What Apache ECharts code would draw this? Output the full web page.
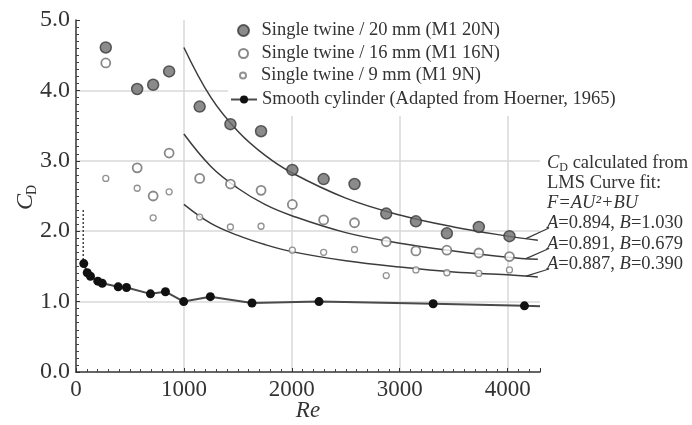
<!DOCTYPE html>
<html><head><meta charset="utf-8">
<script src="https://cdn.jsdelivr.net/npm/echarts@6/dist/echarts.min.js"></script>
<style>html,body{margin:0;padding:0;background:#fff}#c{width:692px;height:425px}</style>
</head><body><div id="c"></div>
<script>
// ---- data ----
const seriesNames = [
  'Single twine / 20 mm (M1 20N)',
  'Single twine / 16 mm (M1 16N)',
  'Single twine / 9 mm (M1 9N)',
  'Smooth cylinder (Adapted from Hoerner, 1965)'
];
const reTwine = [276, 567, 715, 863, 1146, 1431, 1715, 2005, 2295, 2581, 2875, 3150, 3437, 3733, 4017];
const cd20 = [4.61, 4.02, 4.08, 4.27, 3.77, 3.52, 3.42, 2.87, 2.74, 2.67, 2.25, 2.14, 1.97, 2.06, 1.93];
const cd16 = [4.39, 2.90, 2.50, 3.11, 2.75, 2.67, 2.58, 2.38, 2.16, 2.12, 1.85, 1.72, 1.73, 1.69, 1.64];
const cd9  = [2.75, 2.61, 2.19, 2.56, 2.20, 2.06, 2.07, 1.73, 1.70, 1.74, 1.37, 1.45, 1.41, 1.40, 1.45];

const reCyl = [72, 104, 134, 202, 243, 391, 468, 690, 829, 998, 1245, 1631, 2252, 3310, 4156];
const cdCyl = [1.54, 1.41, 1.36, 1.29, 1.26, 1.21, 1.20, 1.11, 1.14, 1.00, 1.07, 0.98, 1.00, 0.97, 0.94];
const cylLineEnd = [4300, 0.935];

const errRe = [67, 67];
const errCd = [2.30, 1.56];

const reFit = [1000, 1250, 1500, 1750, 2000, 2500, 3000, 3500, 4000, 4280];
const fit20 = [4.61, 3.90, 3.42, 3.08, 2.83, 2.47, 2.23, 2.06, 1.93, 1.87];
const fit16 = [3.38, 2.92, 2.61, 2.38, 2.22, 1.98, 1.83, 1.72, 1.63, 1.60];
const fit9  = [2.38, 2.11, 1.94, 1.81, 1.71, 1.58, 1.49, 1.42, 1.38, 1.35];

const fitA = ['0.894', '0.891', '0.887'];
const fitB = ['1.030', '0.679', '0.390'];

const xTicks = [0, 1000, 2000, 3000, 4000];
const yTicks = [0.0, 1.0, 2.0, 3.0, 4.0, 5.0];

// ---- build ----
const serif = '"Liberation Serif", "Times New Roman", serif';
const zip = (a, b) => a.map((v, i) => [v, b[i]]);
const chart = echarts.init(document.getElementById('c'));

const fitLine = (name, arr) => ({
  name, type: 'line', data: zip(reFit, arr), smooth: 0.4, showSymbol: false, silent: true,
  lineStyle: { color: '#3c3c3c', width: 1.5 }, z: 2
});

const legendTops = [21, 44, 66, 90];
const legendLefts = [237, 238, 239, 230];
const legendH = [11, 9, 6, 10];
const fs = 18.5;

const option = {
  animation: false,
  backgroundColor: '#fff',
  grid: { left: 76, right: 152, top: 20, bottom: 53, containLabel: false, outerBoundsMode: 'none' },
  xAxis: {
    type: 'value', min: xTicks[0], max: 4300, interval: 1000,
    name: 'Re', nameLocation: 'middle', nameGap: 27, nameMoveOverlap: false,
    nameTextStyle: { fontFamily: serif, fontStyle: 'italic', fontSize: 23, color: '#333', verticalAlign: 'top' },
    axisLine: { lineStyle: { color: '#333', width: 1.5 } },
    axisTick: { inside: true, length: 4, lineStyle: { color: '#333' } },
    minorTick: { show: true, splitNumber: 10, length: 3, lineStyle: { color: '#444' } },
    axisLabel: { fontFamily: serif, fontSize: 23, color: '#333', margin: 6, showMaxLabel: false,
      formatter: v => (xTicks.indexOf(v) >= 0 ? String(v) : '') },
    splitLine: { show: true, showMinLine: false, showMaxLine: false, lineStyle: { color: '#d9d9d9', width: 1.5 } }
  },
  yAxis: {
    type: 'value', min: yTicks[0], max: yTicks[yTicks.length - 1], interval: 1,
    axisLine: { show: true, lineStyle: { color: '#333', width: 1.5 } },
    axisTick: { show: true, inside: true, length: 4, lineStyle: { color: '#333' } },
    minorTick: { show: true, splitNumber: 10, length: 3, lineStyle: { color: '#444' } },
    axisLabel: { fontFamily: serif, fontSize: 24, color: '#333', margin: 6, formatter: v => v.toFixed(1) },
    splitLine: { show: true, showMinLine: false, showMaxLine: false, lineStyle: { color: '#d9d9d9', width: 1.5 } }
  },
  legend: seriesNames.map((n, i) => ({
    data: [n], left: legendLefts[i], top: legendTops[i], padding: 0, itemWidth: 26, itemHeight: legendH[i],
    selectedMode: false,
    textStyle: { fontFamily: serif, fontSize: fs, color: '#333' }
  })),
  graphic: [
    { type: 'rect', z: 1, shape: { x: 228, y: 0, width: 464, height: 116 }, style: { fill: '#fff' } },
    { type: 'text', x: 26, y: 202, rotation: Math.PI / 2,
      style: { text: 'C', font: 'italic 24px ' + serif, fill: '#333', align: 'center', verticalAlign: 'middle' } },
    { type: 'text', x: 32, y: 190, rotation: Math.PI / 2,
      style: { text: 'D', font: '14px ' + serif, fill: '#333', align: 'center', verticalAlign: 'middle' } },
    { type: 'text', x: 547, y: 163,
      style: { text: '{i|C}{s|D}{n| calculated from}', verticalAlign: 'middle', fill: '#333',
        rich: { i: { fontFamily: serif, fontStyle: 'italic', fontSize: fs, fill: '#333' },
                s: { fontFamily: serif, fontSize: 12, fill: '#333', padding: [9, 0, 0, 0] },
                n: { fontFamily: serif, fontSize: fs, fill: '#333' } } } },
    { type: 'text', x: 547, y: 183,
      style: { text: 'LMS Curve fit:', font: fs + 'px ' + serif, fill: '#333', verticalAlign: 'middle' } },
    { type: 'text', x: 547, y: 203,
      style: { text: 'F=AU\u00B2+BU', font: 'italic ' + fs + 'px ' + serif, fill: '#333', verticalAlign: 'middle' } }
  ].concat(fitA.map((a, i) => ({
    type: 'text', x: 547, y: 223.5 + i * 20.5,
    style: { text: '{i|A}=' + a + ', {i|B}=' + fitB[i], font: fs + 'px ' + serif, fill: '#333', verticalAlign: 'middle',
      rich: { i: { fontFamily: serif, fontStyle: 'italic', fontSize: fs, fill: '#333' } } }
  }))),
  series: [
    fitLine('fit20', fit20),
    fitLine('fit16', fit16),
    fitLine('fit9', fit9),
    { name: 'err', type: 'line', data: zip(errRe, errCd), showSymbol: false, silent: true,
      lineStyle: { color: '#444', width: 1.5, type: [2, 2] }, z: 2 },
    { name: seriesNames[3], type: 'line',
      data: zip(reCyl, cdCyl).concat([{ value: cylLineEnd, symbol: 'none' }]),
      symbol: 'circle', symbolSize: 9, itemStyle: { color: '#111' },
      lineStyle: { color: '#4a4a4a', width: 2 }, z: 3 },
    { name: seriesNames[0], type: 'scatter', data: zip(reTwine, cd20), symbolSize: 11,
      itemStyle: { color: '#6e6e6e', borderColor: '#3a3a3a', borderWidth: 1.5 }, z: 4 },
    { name: seriesNames[1], type: 'scatter', data: zip(reTwine, cd16), symbolSize: 9,
      itemStyle: { color: '#fff', borderColor: '#6a6a6a', borderWidth: 1.8 }, z: 4 },
    { name: seriesNames[2], type: 'scatter', data: zip(reTwine, cd9), symbolSize: 6,
      itemStyle: { color: '#fff', borderColor: '#777', borderWidth: 1.3 }, z: 4 }
  ]
};
chart.setOption(option);

// leader lines from each fitted curve to its label
const fits = [fit20, fit16, fit9];
const n = reFit.length;
const leaders = fits.map((f, i) => {
  const t = (4170 - reFit[n - 2]) / (reFit[n - 1] - reFit[n - 2]);
  const cd = f[n - 2] + t * (f[n - 1] - f[n - 2]);
  const p = chart.convertToPixel({ gridIndex: 0 }, [4170, cd]);
  return { type: 'polyline', z: 5, shape: { points: [p, [549, 228 + i * 20.5]] },
    style: { stroke: '#3c3c3c', lineWidth: 1.3, fill: null } };
});
chart.setOption({ graphic: option.graphic.concat(leaders) });
</script>
</body></html>
